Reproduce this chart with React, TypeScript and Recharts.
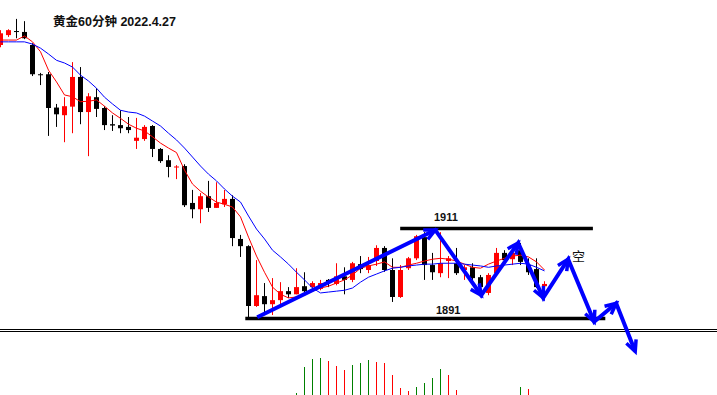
import { Bar, ComposedChart, Line, ReferenceLine, XAxis, YAxis } from 'recharts'

const W = 717
const H = 395
const X_MIN = -0.0625
const X_MAX = X_MIN + W / 8
const Y_MAX = 1961.8
const Y_MIN = Y_MAX - H / 4.5

// 60-minute gold candles, one per index
const OPEN = [
  1951.8, 1954.0, 1954.9, 1954.7, 1951.8, 1945.3, 1945.3, 1937.9, 1936.2, 1938.1,
  1944.7, 1936.9, 1940.2, 1937.8, 1934.2, 1934.0, 1933.6, 1930.5, 1930.9, 1933.8,
  1928.7, 1926.2, 1924.7, 1924.9, 1916.7, 1915.3, 1918.2, 1915.6, 1916.4, 1917.6,
  1908.7, 1907.1, 1893.8, 1896.0, 1894.2, 1895.1, 1897.1, 1896.4, 1898.2, 1898.0,
  1897.6, 1899.6, 1898.7, 1900.4, 1899.6, 1903.1, 1901.8, 1903.8, 1906.7, 1901.8,
  1895.8, 1902.2, 1904.4, 1909.1, 1902.9, 1901.1, 1903.8, 1903.3, 1901.8, 1902.4,
  1900.2, 1896.7, 1901.1, 1905.6, 1904.2, 1906.2, 1902.9, 1902.0, 1898.2,
]
const HIGH = [
  1955.1, 1955.3, 1957.6, 1957.1, 1952.2, 1945.6, 1945.8, 1938.7, 1940.2, 1948.0,
  1946.9, 1941.1, 1942.2, 1938.2, 1936.2, 1937.3, 1935.8, 1935.6, 1934.0, 1934.0,
  1928.9, 1927.3, 1925.1, 1925.3, 1919.6, 1918.9, 1921.6, 1921.3, 1919.6, 1918.4,
  1909.6, 1907.3, 1904.0, 1898.9, 1900.0, 1899.1, 1898.0, 1902.2, 1901.3, 1899.3,
  1899.6, 1899.8, 1903.3, 1902.4, 1903.6, 1904.9, 1904.7, 1907.3, 1907.1, 1904.4,
  1902.9, 1904.7, 1909.6, 1910.2, 1905.6, 1910.2, 1904.9, 1906.7, 1902.9, 1903.3,
  1900.7, 1901.1, 1906.7, 1906.2, 1906.2, 1907.8, 1904.4, 1904.4, 1899.3,
]
const LOW = [
  1951.3, 1953.6, 1953.3, 1953.1, 1944.9, 1942.9, 1931.6, 1933.6, 1930.2, 1932.2,
  1934.2, 1927.1, 1935.8, 1932.9, 1932.7, 1932.2, 1932.2, 1928.7, 1930.5, 1926.9,
  1925.6, 1922.4, 1922.0, 1915.8, 1913.3, 1912.2, 1914.7, 1915.6, 1915.8, 1907.1,
  1904.7, 1891.1, 1893.6, 1892.2, 1891.8, 1893.6, 1895.6, 1896.4, 1896.9, 1897.6,
  1897.3, 1898.0, 1898.4, 1896.4, 1899.1, 1901.1, 1901.1, 1902.7, 1901.4, 1894.7,
  1895.6, 1901.8, 1904.0, 1899.6, 1899.6, 1900.2, 1900.0, 1900.7, 1899.6, 1899.1,
  1897.6, 1896.2, 1900.7, 1903.6, 1902.9, 1902.9, 1900.7, 1897.8, 1896.9,
]
const CLOSE = [
  1954.4, 1955.1, 1954.7, 1953.3, 1945.3, 1945.2, 1937.8, 1936.4, 1938.2, 1944.7,
  1936.9, 1940.4, 1937.6, 1934.0, 1933.9, 1933.3, 1932.9, 1931.2, 1933.6, 1928.7,
  1926.0, 1924.7, 1924.8, 1916.2, 1915.3, 1918.2, 1915.6, 1916.7, 1917.6, 1908.9,
  1907.1, 1893.8, 1896.2, 1894.2, 1895.1, 1897.1, 1896.4, 1898.0, 1897.1, 1898.9,
  1898.9, 1898.9, 1900.4, 1899.6, 1903.3, 1902.0, 1902.9, 1906.7, 1901.8, 1895.8,
  1901.8, 1904.4, 1909.3, 1902.9, 1901.3, 1903.3, 1904.4, 1901.1, 1902.4, 1900.0,
  1898.0, 1900.7, 1905.6, 1904.0, 1905.6, 1903.6, 1901.3, 1898.0, 1898.7,
]
// moving averages
const MA_FAST = [
  1952.9, 1952.9, 1952.9, 1953.8, 1952.5, 1950.3, 1946.2, 1943.6, 1940.7, 1940.3,
  1939.2, 1939.3, 1939.6, 1938.2, 1936.7, 1935.5, 1934.2, 1933.3, 1932.7, 1931.4,
  1930.0, 1928.9, 1927.9, 1924.0, 1920.9, 1919.3, 1918.0, 1916.9, 1916.4, 1915.8,
  1913.6, 1909.1, 1904.9, 1901.3, 1898.0, 1896.4, 1895.6, 1895.8, 1896.2, 1897.1,
  1897.8, 1898.2, 1898.9, 1899.6, 1900.7, 1902.2, 1902.7, 1903.1, 1903.6, 1902.4,
  1902.4, 1902.9, 1903.3, 1903.8, 1904.2, 1904.4, 1904.2, 1903.8, 1903.1, 1902.4,
  1902.2, 1903.1, 1903.8, 1904.4, 1904.9, 1905.1, 1904.7, 1903.6, 1901.8,
]
const MA_SLOW = [
  1952.5, 1952.5, 1952.5, 1952.5, 1952.0, 1951.1, 1949.8, 1948.4, 1947.8, 1946.9,
  1945.1, 1943.8, 1942.2, 1940.2, 1938.7, 1937.3, 1936.9, 1936.7, 1936.0, 1934.9,
  1933.8, 1932.2, 1930.7, 1928.9, 1926.9, 1924.9, 1923.1, 1921.6, 1919.8, 1918.2,
  1916.9, 1913.8, 1910.9, 1908.7, 1906.2, 1904.7, 1903.1, 1901.3, 1899.6, 1897.8,
  1896.7, 1896.9, 1897.1, 1897.3, 1897.8, 1899.1, 1900.2, 1900.9, 1901.6, 1902.2,
  1902.4, 1902.7, 1902.9, 1903.1, 1903.1, 1903.3, 1903.3, 1903.3, 1903.1, 1902.9,
  1902.7, 1902.4, 1902.7, 1902.9, 1903.1, 1903.3, 1903.1, 1902.4, 1901.6,
]

// lower indicator histogram, starting at candle 37
const HIST_START = 37
const HIST = [2, 28, 36, 37, 34, 29, 25, 30, 32, 35, 33, 32, 20, 7, 4, 8, 12, 17, 26, 20, 5, 0, 0, 0, 0, 0, 0, 0, 8, 6]

// range levels and the projected zigzag path
const RESIST = 1911
const SUPPORT = 1891
const RESIST_SPAN = [49.96, 74.05]
const SUPPORT_SPAN = [30.6, 75.6]
const ZIG_X = [32.09, 54.34, 60.09, 64.71, 67.84, 70.96, 74.21, 76.96, 79.34]
const ZIG_P = [1891.3, 1910.7, 1896.2, 1907.8, 1895.6, 1904.2, 1890.3, 1894.4, 1883.7]

const rows = OPEN.map((open, i) => ({
  x: i,
  open,
  high: HIGH[i],
  low: LOW[i],
  close: CLOSE[i],
  fast: MA_FAST[i],
  slow: MA_SLOW[i],
}))

// green when the bar grows from the previous one, red when it shrinks
const histRows = HIST.map((h, k) => {
  let prev = 0
  for (let j = k - 1; j >= 0; j--) if (HIST[j] > 0) { prev = HIST[j]; break }
  const rising = h >= prev
  return { x: HIST_START + k, rise: h > 0 && rising ? h : null, fall: h > 0 && !rising ? h : null }
})

const zigRows = ZIG_X.map((x, i) => ({ x, p: ZIG_P[i] }))

const PX_X = W / (X_MAX - X_MIN)
const PX_Y = H / (Y_MAX - Y_MIN)
const BLUE = '#0000ff'

function Candle(props: any) {
  const { x, y, width, height, payload } = props
  const { open, close, high, low } = payload
  const top = Math.min(y, y + height)
  const h = Math.abs(height)
  const k = h / (high - low)
  const cx = Math.floor(x + width / 2)
  const color = close >= open ? '#ff0000' : '#000000'
  const bodyTop = top + (high - Math.max(open, close)) * k
  const bodyH = Math.max(1, Math.abs(open - close) * k)
  return (
    <g>
      <rect x={cx} y={top} width={1} height={h} fill={color} />
      <rect x={cx - 2} y={bodyTop} width={5} height={bodyH} fill={color} />
    </g>
  )
}

function Stick(props: any) {
  const { x, y, width, height, fill } = props
  if (!height) return <g />
  return <rect x={Math.floor(x + width / 2)} y={Math.round(y)} width={1} height={Math.round(height)} fill={fill} />
}

function ArrowHead(props: any) {
  const { cx, cy, index } = props
  if (!index) return <g key={`arrow-${index}`} />
  const dx = (ZIG_X[index] - ZIG_X[index - 1]) * PX_X
  const dy = -(ZIG_P[index] - ZIG_P[index - 1]) * PX_Y
  const len = Math.hypot(dx, dy)
  const ux = dx / len
  const uy = dy / len
  const L = 12
  const a = 0.45
  const wing = (s: number) => {
    const c = Math.cos(s * a)
    const n = Math.sin(s * a)
    const rx = ux * c - uy * n
    const ry = ux * n + uy * c
    return `${cx - rx * L},${cy - ry * L}`
  }
  return (
    <polyline
      key={`arrow-${index}`}
      points={`${wing(1)} ${cx},${cy} ${wing(-1)}`}
      fill="none"
      stroke={BLUE}
      strokeWidth={3.5}
      strokeLinejoin="miter"
    />
  )
}

const label: React.CSSProperties = {
  position: 'absolute',
  fontFamily: '"Liberation Sans", "Noto Sans CJK SC", sans-serif',
  fontWeight: 'bold',
  color: '#111',
  whiteSpace: 'nowrap',
}

export default function App() {
  return (
    <div style={{ position: 'absolute', left: 0, top: 0, width: W, height: H, background: '#fff', overflow: 'hidden' }}>
      <div style={{ position: 'absolute', left: 0, top: 0 }}>
        <ComposedChart width={W} height={H} data={histRows} margin={{ top: 0, right: 0, bottom: 0, left: 0 }}>
          <XAxis type="number" dataKey="x" domain={[X_MIN, X_MAX]} hide allowDataOverflow />
          <YAxis domain={[0, H]} hide allowDataOverflow />
          <ReferenceLine y={H - 329.5} stroke="#000" strokeWidth={1} />
          <ReferenceLine y={H - 331.5} stroke="#000" strokeWidth={1} />
          <Bar dataKey="rise" stackId="h" barSize={1} fill="#008000" shape={Stick} isAnimationActive={false} />
          <Bar dataKey="fall" stackId="h" barSize={1} fill="#ff0000" shape={Stick} isAnimationActive={false} />
        </ComposedChart>
      </div>
      <div style={{ position: 'absolute', left: 0, top: 0 }}>
        <ComposedChart width={W} height={H} data={rows} margin={{ top: 0, right: 0, bottom: 0, left: 0 }}>
          <XAxis type="number" dataKey="x" domain={[X_MIN, X_MAX]} hide allowDataOverflow />
          <YAxis domain={[Y_MIN, Y_MAX]} hide allowDataOverflow />
          <Bar dataKey={(d: any) => [d.low, d.high]} barSize={5} shape={Candle} isAnimationActive={false} />
          <Line type="linear" dataKey="fast" stroke="#ff0000" strokeWidth={1} dot={false} activeDot={false} isAnimationActive={false} />
          <Line type="linear" dataKey="slow" stroke={BLUE} strokeWidth={1} dot={false} activeDot={false} isAnimationActive={false} />
          <ReferenceLine
            segment={[{ x: RESIST_SPAN[0], y: RESIST }, { x: RESIST_SPAN[1], y: RESIST }]}
            stroke="#000"
            strokeWidth={3.5}
          />
          <ReferenceLine
            segment={[{ x: SUPPORT_SPAN[0], y: SUPPORT }, { x: SUPPORT_SPAN[1], y: SUPPORT }]}
            stroke="#000"
            strokeWidth={3.5}
          />
          <Line
            data={zigRows}
            type="linear"
            dataKey="p"
            stroke={BLUE}
            strokeWidth={4}
            dot={ArrowHead}
            activeDot={false}
            isAnimationActive={false}
          />
        </ComposedChart>
      </div>
      <div style={{ ...label, left: 53, top: 11, fontSize: 12.5 }}>黄金60分钟 2022.4.27</div>
      <div style={{ ...label, left: 434, top: 211, fontSize: 11 }}>{RESIST}</div>
      <div style={{ ...label, left: 436, top: 304, fontSize: 11 }}>{SUPPORT}</div>
      <div style={{ ...label, left: 572, top: 246, fontSize: 13, fontWeight: 'normal', fontFamily: '"Noto Sans CJK SC", sans-serif' }}>空</div>
    </div>
  )
}
